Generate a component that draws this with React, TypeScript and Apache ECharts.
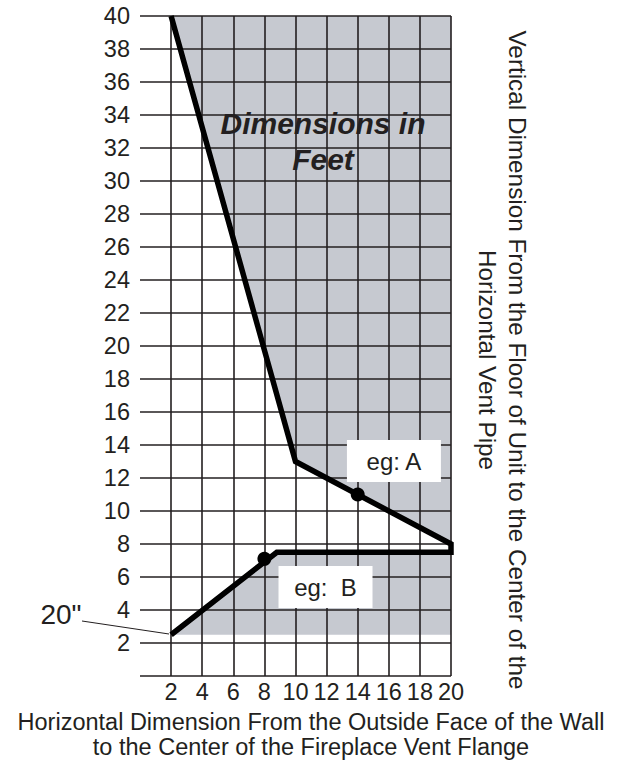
import React, { useEffect, useRef } from "react";
import * as echarts from "echarts";

const FONT = '"Liberation Sans", Arial, Helvetica, sans-serif';
const INK = "#231f20";
const SHADE = "#c6c9d0";

// Axis ranges / ticks
const xRange = [0, 20];
const yRange = [0, 40];
const xStep = 2;
const yStep = 2;

// Boundary line (feet): vertical dimension vs horizontal dimension
const boundaryX = [2, 10, 20, 20, 8.8, 2];
const boundaryY = [40, 13, 8, 7.5, 7.5, 2.5];

// Shaded (allowed) regions
const upperShadeX = [2, 20, 20, 10];
const upperShadeY = [40, 40, 8, 13];
const lowerShadeX = [2, 8.8, 20, 20];
const lowerShadeY = [2.5, 7.5, 7.5, 2.5];

// Example points
const exampleX = [14, 8];
const exampleY = [11, 7.1];

// Example labels
const labelNames = ["eg: A", "eg:  B"];
const labelX = [16.33, 11.93];
const labelY = [13.03, 5.39];

// Axis titles
const xTitleLines = [
  "Horizontal Dimension From the Outside Face of the Wall",
  "to the Center of the Fireplace Vent Flange",
];
const yTitle =
  "Vertical Dimension From the Floor of Unit to the Center of the\nHorizontal Vent Pipe";

const zip = (xs: number[], ys: number[]) => xs.map((x, i) => [x, ys[i]]);

export default function App() {
  const ref = useRef<HTMLDivElement>(null);

  useEffect(() => {
    if (!ref.current) return;
    const chart = echarts.init(ref.current, undefined, { renderer: "svg" });
    const shades = [zip(upperShadeX, upperShadeY), zip(lowerShadeX, lowerShadeY)];

    chart.setOption({
      animation: false,
      backgroundColor: "#ffffff",
      grid: { left: 140, right: 178, top: 16, bottom: 87, containLabel: false },
      xAxis: {
        type: "value",
        min: xRange[0],
        max: xRange[1],
        interval: xStep,
        axisLine: { show: false },
        axisTick: { show: false },
        splitLine: {
          show: true,
          showMinLine: false,
          lineStyle: { color: INK, width: 1.6 },
        },
        axisLabel: {
          margin: 4,
          fontSize: 23.5,
          fontFamily: FONT,
          color: INK,
          formatter: (v: number) => (v === 0 ? "" : String(v)),
        },
      },
      yAxis: {
        type: "value",
        min: yRange[0],
        max: yRange[1],
        interval: yStep,
        axisLine: { show: false },
        axisTick: { show: false },
        splitLine: { show: true, lineStyle: { color: INK, width: 1.6 } },
        axisLabel: {
          margin: 10,
          fontSize: 23.5,
          fontFamily: FONT,
          color: INK,
          formatter: (v: number) => (v === 0 ? "" : String(v)),
        },
      },
      series: [
        {
          type: "custom",
          z: -1,
          silent: true,
          data: shades.map((_, i) => i),
          renderItem: (params: any, api: any) => {
            const poly = shades[params.dataIndex];
            return {
              type: "polygon",
              shape: { points: poly.map((p) => api.coord(p)) },
              style: { fill: SHADE },
            };
          },
        },
        {
          type: "line",
          data: zip(boundaryX, boundaryY),
          symbol: "none",
          z: 5,
          lineStyle: { color: "#000", width: 5.5, join: "miter" },
        },
        {
          type: "scatter",
          data: zip(exampleX, exampleY),
          symbol: "circle",
          symbolSize: 14,
          z: 6,
          itemStyle: { color: "#000", opacity: 1 },
        },
        {
          type: "scatter",
          z: 7,
          data: labelNames.map((n, i) => ({ name: n, value: [labelX[i], labelY[i]] })),
          symbol: "rect",
          symbolSize: [94, 42],
          itemStyle: { color: "#ffffff", opacity: 1 },
          label: {
            show: true,
            position: "inside",
            formatter: (p: any) => p.name,
            fontSize: 24,
            fontFamily: FONT,
            color: INK,
            opacity: 1,
          },
        },
      ],
      graphic: [
        {
          type: "text",
          x: 323,
          y: 141,
          z: 10,
          style: {
            text: "Dimensions in\nFeet",
            font: `italic bold 30px ${FONT}`,
            fill: INK,
            align: "center",
            verticalAlign: "middle",
            lineHeight: 36,
          },
        },
        {
          type: "text",
          x: 61,
          y: 614,
          style: {
            text: '20"',
            font: `28px ${FONT}`,
            fill: INK,
            align: "center",
            verticalAlign: "middle",
          },
        },
        {
          type: "line",
          shape: { x1: 82, y1: 621, x2: 169, y2: 634 },
          style: { stroke: INK, lineWidth: 1 },
        },
        ...xTitleLines.map((t, i) => ({
          type: "text",
          x: 311,
          y: 722 + i * 24.5,
          style: {
            text: t,
            font: `23.5px ${FONT}`,
            fill: INK,
            align: "center",
            verticalAlign: "middle",
            lineHeight: 23.5,
          },
        })),
        {
          type: "text",
          x: 502,
          y: 360,
          rotation: -Math.PI / 2,
          style: {
            text: yTitle,
            font: `24.3px ${FONT}`,
            fill: INK,
            align: "center",
            verticalAlign: "middle",
            lineHeight: 30,
          },
        },
      ],
    });

    return () => chart.dispose();
  }, []);

  return (
    <div
      ref={ref}
      style={{ position: "absolute", left: 0, top: 0, width: 629, height: 763 }}
    />
  );
}
